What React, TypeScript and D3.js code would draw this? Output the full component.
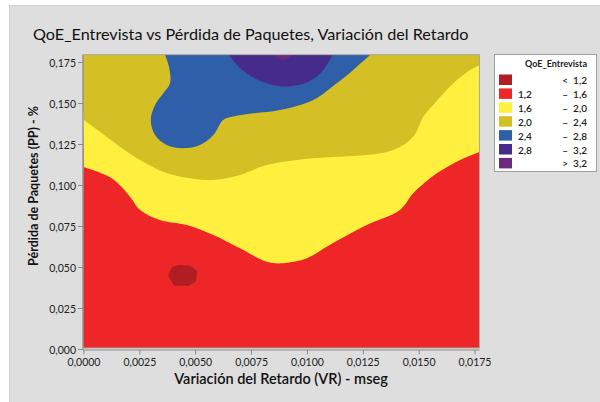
import React from "react";
import * as d3 from "d3";

const title = "QoE_Entrevista vs Pérdida de Paquetes, Variación del Retardo";
const xLabel = "Variación del Retardo (VR) - mseg";
const yLabel = "Pérdida de Paquetes (PP) - %";

const xTicks = [0, 0.0025, 0.005, 0.0075, 0.01, 0.0125, 0.015, 0.0175];
const yTicks = [0, 0.025, 0.05, 0.075, 0.1, 0.125, 0.15, 0.175];
const xDomain = [0, 0.0177];
const yDomain = [0, 0.1795];

// contour boundaries, [VR, PP]
const level16 = [
  [0, 0.1111], [0.00124, 0.1044], [0.00206, 0.0932], [0.00251, 0.0851],
  [0.0034, 0.079], [0.0046, 0.0759], [0.00579, 0.0698], [0.00698, 0.0617],
  [0.00818, 0.0535], [0.00892, 0.0526], [0.00997, 0.0556], [0.01086, 0.0627],
  [0.01265, 0.0759], [0.01414, 0.0851], [0.01474, 0.0953], [0.01579, 0.1074],
  [0.01683, 0.1156], [0.0177, 0.1205],
];
const level20 = [
  [0, 0.14], [0.00072, 0.1328], [0.00161, 0.1237], [0.00251, 0.1156],
  [0.00355, 0.1084], [0.00474, 0.1044], [0.00579, 0.1034], [0.00698, 0.1064],
  [0.00818, 0.1125], [0.00952, 0.1156], [0.01101, 0.1172], [0.01265, 0.1186],
  [0.01384, 0.1217], [0.01474, 0.1298], [0.01519, 0.142], [0.01563, 0.1491],
  [0.01653, 0.1623], [0.01728, 0.1704], [0.0177, 0.1735],
];
const level24 = [
  [0.00363, 0.1795], [0.0038, 0.1725], [0.00385, 0.1623], [0.00355, 0.1562],
  [0.00318, 0.1491], [0.00299, 0.14], [0.00318, 0.1308], [0.0037, 0.1247],
  [0.00444, 0.1227], [0.00519, 0.1247], [0.00579, 0.1308], [0.00623, 0.14],
  [0.00668, 0.142], [0.00758, 0.144], [0.00877, 0.146], [0.01026, 0.1521],
  [0.01131, 0.1623], [0.01205, 0.1704], [0.0128, 0.1795],
];
const level28 = [
  [0.00649, 0.1795], [0.00698, 0.1717], [0.00779, 0.1643], [0.00886, 0.1604],
  [0.01003, 0.1631], [0.01071, 0.1704], [0.01112, 0.1795],
];
const level32 = [[0.00845, 0.1795], [0.0089, 0.1763], [0.00935, 0.1795]];
const level12 = [
  [0.00376, 0.0451], [0.00394, 0.0503], [0.00425, 0.0515], [0.00474, 0.0512],
  [0.00506, 0.0479], [0.00501, 0.0415], [0.00465, 0.0387], [0.00403, 0.039],
];

const legendColors = ["#b01d22", "#ee2628", "#fff03f", "#d4bf24", "#2f5fa9", "#472b8a", "#6b2a80"];
const legendFrom = ["", "1,2", "1,6", "2,0", "2,4", "2,8", ""];
const legendTo = ["<  1,2", "–  1,6", "–  2,0", "–  2,4", "–  2,8", "–  3,2", ">  3,2"];

const font = "Lato, 'Open Sans', sans-serif";

export default function App() {
  const x = d3.scaleLinear().domain([0, 0.0175]).range([84, 475]);
  const y = d3.scaleLinear().domain([0, 0.175]).range([349.5, 62.5]);

  const left = x(xDomain[0]) - 1;
  const right = x(xDomain[1]);
  const top = y(yDomain[1]);
  const bottom = y(yDomain[0]) - 1.5;

  const line = d3
    .line<number[]>()
    .x((d) => x(d[0]))
    .y((d) => y(d[1]))
    .curve(d3.curveCatmullRom.alpha(0.5));
  const closed = d3
    .line<number[]>()
    .x((d) => x(d[0]))
    .y((d) => y(d[1]))
    .curve(d3.curveLinearClosed);

  const band = (pts: number[][]) =>
    `${line(pts)}L${right + 2},${top - 2}L${left - 2},${top - 2}Z`;
  const blob = (pts: number[][]) => `${line(pts)}Z`;

  const fx = (v: number) => d3.format(".4f")(v).replace(".", ",");
  const fy = (v: number) => d3.format(".3f")(v).replace(".", ",");

  return (
    <div style={{ position: "absolute", left: 0, top: 0 }}>
      <svg width={600} height={402} style={{ display: "block" }} fontFamily={font}>
        <rect x={0} y={0} width={600} height={402} fill="#ffffff" />
        <rect x={9.5} y={5.5} width={592} height={400} fill="#dedede" stroke="#cfcfcf" />

        <text x={33} y={40} fontSize={16.2} fill="#111">
          {title}
        </text>

        <defs>
          <clipPath id="plot">
            <rect x={left} y={top} width={right - left} height={bottom - top} />
          </clipPath>
        </defs>
        <g clipPath="url(#plot)">
          <rect x={left} y={top} width={right - left} height={bottom - top} fill={legendColors[1]} />
          <path d={band(level16)} fill={legendColors[2]} />
          <path d={band(level20)} fill={legendColors[3]} />
          <path d={blob(level24)} fill={legendColors[4]} />
          <path d={blob(level28)} fill={legendColors[5]} />
          <path d={blob(level32)} fill={legendColors[6]} />
          <path d={closed(level12) ?? ""} fill={legendColors[0]} />
        </g>
        <rect
          x={left}
          y={top - 0.5}
          width={right - left}
          height={bottom - top + 0.5}
          fill="none"
          stroke="#a8a8a8"
          strokeWidth={1}
        />

        <g stroke="#8a8a8a">
          <line x1={left} y1={top} x2={left} y2={y(0) + 0.5} />
          <line x1={left} y1={y(0) + 0.5} x2={right} y2={y(0) + 0.5} />
          {yTicks.map((t) => (
            <line key={t} x1={left - 5} x2={left} y1={y(t)} y2={y(t)} />
          ))}
          {xTicks.map((t) => (
            <line key={t} x1={x(t)} x2={x(t)} y1={y(0) + 0.5} y2={y(0) + 5} />
          ))}
        </g>
        <g fontSize={10.5} fill="#222">
          {yTicks.map((t) => (
            <text key={t} x={left - 7} y={y(t)} textAnchor="end" dominantBaseline="central">
              {fy(t)}
            </text>
          ))}
          {xTicks.map((t) => (
            <text key={t} x={x(t)} y={362} textAnchor="middle" dominantBaseline="central">
              {fx(t)}
            </text>
          ))}
        </g>

        <text x={281} y={384} textAnchor="middle" fontSize={14.5} fontWeight={600} fill="#111">
          {xLabel}
        </text>
        <text
          transform={`translate(38,186) rotate(-90)`}
          textAnchor="middle"
          fontSize={12.5}
          fontWeight={700}
          fill="#111"
        >
          {yLabel}
        </text>

        <rect x={494.5} y={54.5} width={102} height={117} fill="#ffffff" stroke="#a0a0a0" />
        <text x={587} y={67} textAnchor="end" fontSize={9} fontWeight={700} fill="#222">
          QoE_Entrevista
        </text>
        {legendColors.map((c, i) => {
          const ty = 74.5 + i * 13.9;
          return (
            <g key={c}>
              <rect x={499} y={ty} width={13} height={10.5} fill={c} />
              <text x={518} y={ty + 5.5} fontSize={10} fontWeight={600} fill="#222" dominantBaseline="central">
                {legendFrom[i]}
              </text>
              <text
                x={587}
                y={ty + 5.5}
                fontSize={10}
                fontWeight={600}
                fill="#222"
                textAnchor="end"
                dominantBaseline="central"
                style={{ whiteSpace: "pre" }}
              >
                {legendTo[i]}
              </text>
            </g>
          );
        })}
      </svg>
    </div>
  );
}
